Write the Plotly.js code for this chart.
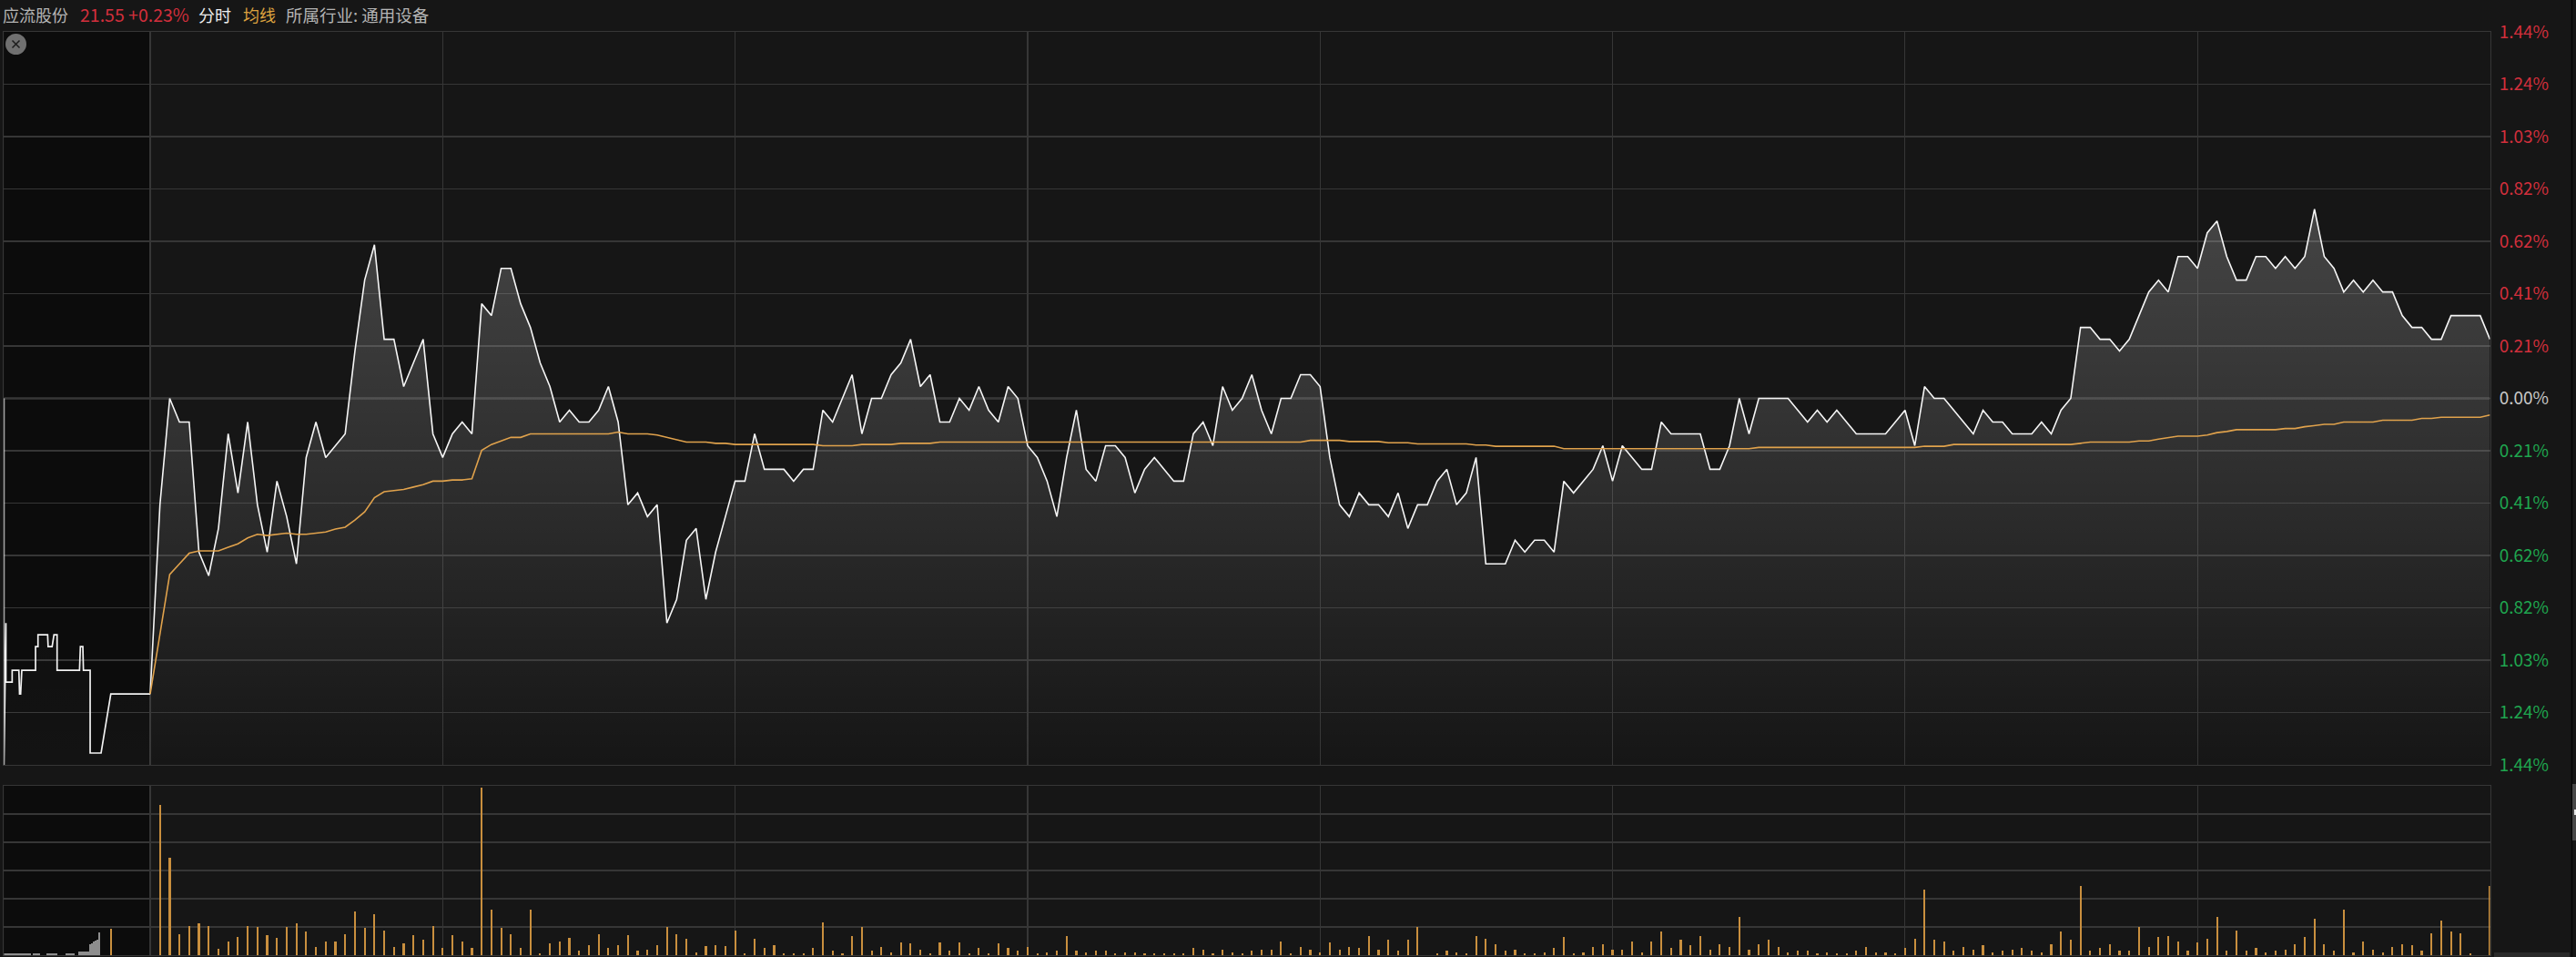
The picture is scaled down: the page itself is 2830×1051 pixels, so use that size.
<!DOCTYPE html>
<html>
<head>
<meta charset="utf-8">
<title>应流股份 分时</title>
<script src="https://cdn.plot.ly/plotly-3.0.1.min.js"></script>
<style>html,body{margin:0;padding:0;background:#161616;overflow:hidden}#chart{width:2830px;height:1051px}</style>
</head>
<body>
<div id="chart"></div>
<script>
// ---------- data ----------
const prevClose = 21.50;
const yTickPct = [1.44,1.24,1.03,0.82,0.62,0.41,0.21,0,-0.21,-0.41,-0.62,-0.82,-1.03,-1.24,-1.44];
const yTickLabels = ['1.44%','1.24%','1.03%','0.82%','0.62%','0.41%','0.21%','0.00%','0.21%','0.41%','0.62%','0.82%','1.03%','1.24%','1.44%'];
const yTickPrices = [21.81,21.7657,21.7214,21.6771,21.6329,21.5886,21.5443,21.50,21.4557,21.4114,21.3671,21.3229,21.2786,21.2343,21.19];

const preMinutes = [-15,-15,-14.8,-14.8,-14.16,-14.16,-13.47,-13.4,-13.29,-13.17,-11.76,-11.76,-11.51,-11.51,-10.52,-10.47,-10.06,-9.87,-9.55,-9.55,-7.25,-7.16,-6.91,-6.85,-6.16,-6.16,-5.04,-4.04,0];
const prePrice = [21.50,21.19,21.31,21.26,21.26,21.27,21.27,21.25,21.25,21.27,21.27,21.29,21.29,21.30,21.30,21.29,21.29,21.30,21.30,21.27,21.27,21.29,21.29,21.27,21.27,21.20,21.20,21.25,21.25];

const price = [
21.25,21.41,21.50,21.48,21.48,21.37,21.35,21.39,21.47,21.42,
21.48,21.41,21.37,21.43,21.40,21.36,21.45,21.48,21.45,21.46,
21.47,21.54,21.60,21.63,21.55,21.55,21.51,21.53,21.55,21.47,
21.45,21.47,21.48,21.47,21.58,21.57,21.61,21.61,21.58,21.56,
21.53,21.51,21.48,21.49,21.48,21.48,21.49,21.51,21.48,21.41,
21.42,21.40,21.41,21.31,21.33,21.38,21.39,21.33,21.37,21.40,
21.43,21.43,21.47,21.44,21.44,21.44,21.43,21.44,21.44,21.49,
21.48,21.50,21.52,21.47,21.50,21.50,21.52,21.53,21.55,21.51,
21.52,21.48,21.48,21.50,21.49,21.51,21.49,21.48,21.51,21.50,
21.46,21.45,21.43,21.40,21.45,21.49,21.44,21.43,21.46,21.46,
21.45,21.42,21.44,21.45,21.44,21.43,21.43,21.47,21.48,21.46,
21.51,21.49,21.50,21.52,21.49,21.47,21.50,21.50,21.52,21.52,
21.51,21.45,21.41,21.40,21.42,21.41,21.41,21.40,21.42,21.39,
21.41,21.41,21.43,21.44,21.41,21.42,21.45,21.36,21.36,21.36,
21.38,21.37,21.38,21.38,21.37,21.43,21.42,21.43,21.44,21.46,
21.43,21.46,21.45,21.44,21.44,21.48,21.47,21.47,21.47,21.47,
21.44,21.44,21.46,21.50,21.47,21.50,21.50,21.50,21.50,21.49,
21.48,21.49,21.48,21.49,21.48,21.47,21.47,21.47,21.47,21.48,
21.49,21.46,21.51,21.50,21.50,21.49,21.48,21.47,21.49,21.48,
21.48,21.47,21.47,21.47,21.48,21.47,21.49,21.50,21.56,21.56,
21.55,21.55,21.54,21.55,21.57,21.59,21.60,21.59,21.62,21.62,
21.61,21.64,21.65,21.62,21.60,21.60,21.62,21.62,21.61,21.62,
21.61,21.62,21.66,21.62,21.61,21.59,21.60,21.59,21.60,21.59,
21.59,21.57,21.56,21.56,21.55,21.55,21.57,21.57,21.57,21.57,
21.55];

const avgPrice = [
21.25,21.30,21.351,21.36,21.369,21.371,21.371,21.371,21.374,21.377,
21.382,21.385,21.384,21.385,21.386,21.385,21.385,21.386,21.387,21.3895,
21.391,21.397,21.404,21.416,21.421,21.422,21.423,21.425,21.427,21.43,
21.43,21.431,21.431,21.432,21.456,21.461,21.464,21.467,21.467,21.47,
21.47,21.47,21.47,21.47,21.47,21.47,21.47,21.47,21.4715,21.47,
21.47,21.47,21.469,21.467,21.465,21.463,21.463,21.463,21.462,21.462,
21.461,21.461,21.461,21.461,21.461,21.461,21.461,21.461,21.461,21.46,
21.46,21.46,21.46,21.461,21.461,21.461,21.461,21.462,21.462,21.462,
21.462,21.463,21.463,21.463,21.463,21.463,21.463,21.463,21.463,21.463,
21.463,21.463,21.463,21.463,21.463,21.463,21.463,21.463,21.463,21.463,
21.463,21.463,21.463,21.463,21.463,21.463,21.463,21.463,21.463,21.463,
21.463,21.463,21.463,21.463,21.463,21.463,21.463,21.463,21.463,21.4645,
21.4645,21.4645,21.4645,21.4635,21.4635,21.4635,21.4635,21.4625,21.4625,21.4625,
21.4615,21.4615,21.4615,21.4615,21.4615,21.4615,21.4605,21.4605,21.4595,21.4595,
21.4595,21.4595,21.4595,21.4595,21.4595,21.4575,21.4575,21.4575,21.4575,21.4575,
21.4575,21.4575,21.4575,21.4575,21.4575,21.4575,21.4575,21.4575,21.4575,21.4575,
21.4575,21.4575,21.4575,21.4575,21.4575,21.4585,21.4585,21.4585,21.4585,21.4585,
21.4585,21.4585,21.4585,21.4585,21.4585,21.4585,21.4585,21.4585,21.4585,21.4585,
21.4585,21.4585,21.4595,21.4595,21.4595,21.461,21.461,21.461,21.461,21.461,
21.461,21.461,21.461,21.461,21.461,21.461,21.461,21.461,21.462,21.463,
21.463,21.463,21.463,21.463,21.464,21.464,21.4655,21.467,21.468,21.468,
21.468,21.469,21.471,21.472,21.4735,21.4735,21.4735,21.4735,21.4735,21.4745,
21.4745,21.476,21.477,21.478,21.478,21.48,21.48,21.48,21.48,21.4815,
21.4815,21.4815,21.4815,21.483,21.483,21.484,21.484,21.484,21.484,21.484,
21.486];

const volume = [
0,533,345,75,103,113,103,23,49,65,
103,100,70,60,100,113,85,30,49,49,
75,156,98,146,88,30,41,70,55,103,
26,70,49,26,593,162,98,75,26,162,
6,41,49,60,16,35,75,26,35,70,
16,20,35,99,74,59,11,31,35,31,
88,6,59,26,35,6,6,6,26,117,
16,6,69,99,16,30,11,45,41,20,
6,45,16,45,6,26,6,41,26,16,
30,6,11,16,69,16,11,16,16,6,
11,11,6,6,6,6,6,26,20,6,
20,11,6,16,20,20,49,6,30,20,
11,45,20,30,26,69,20,55,16,55,
99,0,6,16,11,6,69,59,40,16,
20,6,6,11,26,63,6,11,30,40,
20,20,49,11,48,83,26,55,35,69,
20,40,30,136,20,40,55,30,11,16,
16,6,11,6,6,16,30,11,11,6,
26,59,233,55,49,16,30,20,35,11,
16,20,26,16,11,40,83,55,244,16,
26,40,16,16,99,30,63,69,49,16,
45,59,136,16,88,16,26,11,16,20,
40,63,128,40,16,161,11,49,20,11,
30,40,35,16,78,122,83,78,6,0,
244];

const auctionMinute = [-4.04];
const auctionVolume = [95];
const preVolMinutes = [-14.94,-14.75,-14.57,-14.38,-14.19,-14.0,-13.82,-13.63,-13.45,-13.26,-13.07,-12.89,-12.7,-12.51,-12.33,-11.95,-11.76,-11.58,-11.39,-10.55,-10.36,-10.18,-9.99,-9.8,-9.62,-8.59,-8.4,-8.22,-8.03,-7.84,-7.28,-7.1,-6.91,-6.72,-6.54,-6.35,-6.16,-5.98,-5.79,-5.6,-5.42,-5.23];
const preVolume = [8,6,8,8,6,8,8,6,8,6,8,8,6,8,6,6,8,8,6,8,6,8,8,6,8,6,8,6,8,6,12,12,12,12,12,13,38,43,48,51,54,80];

const volGridVals = [0,100,200,300,400,500,600];
const timeGridVals = [0,30,60,90,120,150,180,210,240];
const minutes = [];
for (let i = 0; i < price.length; i++) minutes.push(i);

// ---------- layout helpers ----------
const W = 2830, H = 1051;
const px = X => X / W, py = Y => 1 - Y / H;
const RED = '#d22f3c', GREEN = '#1fa64f', GRID = '#363636', BG = '#161616';
const CJK = '"Noto Sans CJK SC","Noto Sans",sans-serif';

const coloured = yTickLabels.map((t, k) => {
  const c = yTickPct[k] > 0 ? RED : yTickPct[k] < 0 ? GREEN : '#c8c8c8';
  return '<span style="color:' + c + '">' + t + '</span>';
});

const fillScale = [[0,'rgba(255,255,255,0)'],[1,'rgba(255,255,255,0.2)']];
const preFillScale = [[0,'rgba(255,255,255,0.03)'],[1,'rgba(255,255,255,0)']];

const traces = [
  {type:'scatter',mode:'lines',x:preMinutes,y:prePrice,xaxis:'x',yaxis:'y',
   line:{color:'#f2f2f2',width:1.7},fill:'tozeroy',
   fillgradient:{type:'vertical',start:21.19,stop:21.45,colorscale:preFillScale},hoverinfo:'skip'},
  {type:'scatter',mode:'lines',x:minutes,y:price,xaxis:'x',yaxis:'y',
   line:{color:'#f6f6f6',width:1.6},fill:'tozeroy',
   fillgradient:{type:'vertical',start:21.19,stop:21.66,colorscale:fillScale}},
  {type:'scatter',mode:'lines',x:minutes,y:avgPrice,xaxis:'x',yaxis:'y',
   line:{color:'#e0a24c',width:1.6}},
  {type:'bar',x:preVolMinutes,y:preVolume,xaxis:'x2',yaxis:'y2',width:0.18,
   marker:{color:'#8e8e8e',line:{width:0}}},
  {type:'bar',x:auctionMinute,y:auctionVolume,xaxis:'x2',yaxis:'y2',width:0.2,
   marker:{color:'#c98f3e',line:{width:0}}},
  {type:'bar',x:minutes,y:volume,xaxis:'x2',yaxis:'y2',width:0.2,
   marker:{color:'#c98f3e',line:{width:0}}}
];

function headerText(text, X, color, size) {
  return {text, xref:'paper', yref:'paper', x:px(X), y:py(16), xanchor:'left', yanchor:'middle',
          showarrow:false, font:{family:CJK, size:size, color}};
}

const xCommon = {range:[-15,240], tickmode:'array', tickvals:timeGridVals, ticktext:timeGridVals.map(()=>''),
  showgrid:true, gridcolor:GRID, gridwidth:1.2, zeroline:false, showline:true, linecolor:GRID, linewidth:1.4,
  mirror:true, ticks:'', showticklabels:false, fixedrange:true};

const layout = {
  width:W, height:H, margin:{l:0,r:0,t:0,b:0,pad:0},
  paper_bgcolor:BG, plot_bgcolor:BG, showlegend:false, bargap:0, barmode:'overlay',
  font:{family:CJK},
  xaxis:Object.assign({}, xCommon, {domain:[px(4.35),px(2735.5)], anchor:'y'}),
  xaxis2:Object.assign({}, xCommon, {domain:[px(4.35),px(2735.5)], anchor:'y2'}),
  yaxis:{domain:[py(840),py(35)], range:[21.19,21.81], side:'right', anchor:'x',
    tickmode:'array', tickvals:yTickPrices, ticktext:coloured,
    tickfont:{family:CJK,size:19,color:'#c8c8c8'}, ticks:'', ticklabelstandoff:5,
    showgrid:true, gridcolor:GRID, gridwidth:1.3, zeroline:false, showline:true, linecolor:GRID, linewidth:1.4, mirror:true, fixedrange:true},
  yaxis2:{domain:[py(1049),py(863)], range:[0,600], side:'right', anchor:'x2',
    tickmode:'array', tickvals:volGridVals, ticktext:volGridVals.map(()=>''),
    showgrid:true, gridcolor:GRID, gridwidth:1.3, zeroline:false, showline:true, linecolor:GRID, linewidth:1.4, mirror:true,
    ticks:'', showticklabels:false, fixedrange:true},
  shapes:[
    {type:'rect',xref:'x',yref:'y',x0:-15,x1:0,y0:21.19,y1:21.81,layer:'below',fillcolor:'#0c0c0c',line:{width:0}},
    {type:'rect',xref:'x2',yref:'y2',x0:-15,x1:0,y0:0,y1:600,layer:'below',fillcolor:'#0c0c0c',line:{width:0}},
    {type:'line',xref:'x',yref:'y',x0:-15,x1:240,y0:prevClose,y1:prevClose,line:{color:'#4c4c4c',width:2},layer:'below'},
    {type:'circle',xref:'paper',yref:'paper',x0:px(6),x1:px(29),y0:py(60),y1:py(37),fillcolor:'#707070',line:{width:0}},
    {type:'line',xref:'paper',yref:'paper',x0:px(13.5),x1:px(21.5),y0:py(44.5),y1:py(52.5),line:{color:'#1e1e1e',width:1.6}},
    {type:'line',xref:'paper',yref:'paper',x0:px(13.5),x1:px(21.5),y0:py(52.5),y1:py(44.5),line:{color:'#1e1e1e',width:1.6}},
    {type:'line',xref:'paper',yref:'paper',x0:px(2825.5),x1:px(2825.5),y0:0,y1:1,line:{color:'#050505',width:1.2}},
    {type:'rect',xref:'paper',yref:'paper',x0:px(2826),x1:px(2830),y0:py(923),y1:py(861),fillcolor:'#484848',line:{width:0}},
    {type:'rect',xref:'paper',yref:'paper',x0:px(2828),x1:px(2830),y0:py(895),y1:py(889),fillcolor:'#e8e8e8',line:{width:0}},
    {type:'rect',xref:'paper',yref:'paper',x0:px(2740),x1:px(2823),y0:0,y1:py(1046),fillcolor:'#2a2a2a',line:{width:0}}
  ],
  annotations:[
    headerText('应流股份', 1, '#b4b4b4', 18),
    headerText('21.55 +0.23%', 86, '#d22f3c', 19.5),
    headerText('分时', 216, '#eeeeee', 18),
    headerText('均线', 265, '#dda23f', 18),
    headerText('所属行业: 通用设备', 312, '#b4b4b4', 18.5)
  ]
};

Plotly.newPlot('chart', traces, layout, {displayModeBar:false, staticPlot:true});
</script>
</body>
</html>
